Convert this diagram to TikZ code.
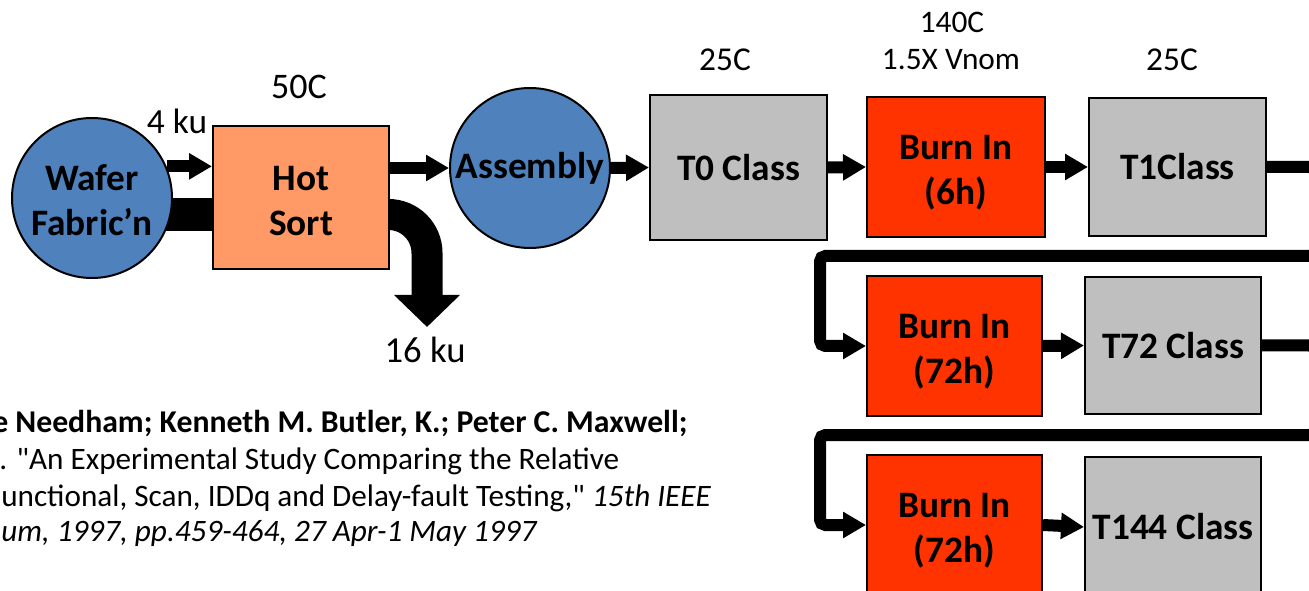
\documentclass[tikz,border=0pt]{standalone}
\usepackage{fontspec}
\setmainfont{Carlito}
\usetikzlibrary{arrows.meta,backgrounds}
\definecolor{cblue}{HTML}{4F81BD}
\definecolor{csalmon}{HTML}{FF9966}
\definecolor{cred}{HTML}{FF3300}
\definecolor{cgray}{HTML}{BFBFBF}
\newcommand{\tstrut}[1]{\rule{0pt}{#1}}
\begin{document}
\begin{tikzpicture}[x=0.75pt,y=-0.75pt,
  proc/.style={draw=black,line width=1.5pt,inner sep=0pt,align=center,
    font=\fontsize{28}{33.75}\selectfont\bfseries},
  circ/.style={proc,circle,fill=cblue,minimum size=120pt},
  hotbox/.style={proc,rectangle,fill=csalmon,minimum width=132pt,minimum height=107.25pt},
  testbox/.style={proc,rectangle,fill=cgray,minimum width=132.75pt,minimum height=105pt},
  burnbox/.style={proc,rectangle,fill=cred,minimum width=132pt,minimum height=105pt},
  lbl/.style={inner sep=0pt,font=\fontsize{23.5}{28}\selectfont},
  biglbl/.style={inner sep=0pt,font=\fontsize{27}{32}\selectfont},
  midlbl/.style={inner sep=0pt,font=\fontsize{25}{30}\selectfont},
  cite/.style={anchor=base west,inner sep=0pt,font=\fontsize{23.4}{28}\selectfont},
  flow/.style={line width=9pt,-{Triangle[length=17.25pt,width=18.75pt]}},
  loopflow/.style={flow,rounded corners=4pt},
  fatbar/.style={line width=24.75pt},
  lossflow/.style={line width=23.25pt,rounded corners=28.9pt,-{Triangle[length=24pt,width=48pt]}}
]
\useasboundingbox (0,0) rectangle (1309,591);
\clip (0,0) rectangle (1309,591);

% nodes
\node[circ] (wafer) at (92,198) {\tstrut{23pt}Wafer\\Fabric’n};
\node[hotbox] (hot) at (301,197.5) {\tstrut{23pt}Hot\\Sort};
\node[circ] (asm) at (530,168) {Assembly};
\node[testbox,minimum height=108.75pt] (t0) at (738.5,167.5) {T0 Class};
\node[burnbox,minimum width=133.5pt] (b1) at (956,167) {\tstrut{26pt}Burn In\\(6h)};
\node[testbox,minimum height=103.5pt] (t1) at (1177.5,167) {T1Class};
\node[burnbox,minimum width=131.25pt] (b2) at (954.5,346) {\tstrut{26pt}Burn In\\(72h)};
\node[testbox,minimum width=132pt,minimum height=102.75pt] (t72) at (1173,345.5) {T72 Class};
\node[burnbox,minimum width=131.25pt] (b3) at (954.5,525) {\tstrut{26pt}Burn In\\(72h)};
\node[testbox,minimum width=132pt] (t144) at (1173,527) {T144 Class};

% labels
\node[biglbl] (l50) at (299,87) {50C};
\node[biglbl,font=\fontsize{26.5}{32}\selectfont] (l4ku) at (177,121) {4 ku};
\node[biglbl,font=\fontsize{27.5}{32}\selectfont] (l16ku) at (425,350) {16 ku};
\node[midlbl] (l25a) at (725,60) {25C};
\node[lbl] (l140) at (952,22) {140C};
\node[lbl] (lvnom) at (951,60) {1.5X Vnom};
\node[midlbl] (l25b) at (1172,60) {25C};

% citation
\node[cite,font=\fontsize{23.8}{28}\selectfont] (c1) at (-8,432) {\bfseries e Needham; Kenneth M. Butler, K.; Peter C. Maxwell;};
\node[cite] (c2) at (-1,469) {. \textquotedbl An Experimental Study Comparing the Relative};
\node[cite] (c3) at (1,506) {unctional, Scan, IDDq and Delay-fault Testing,\textquotedbl{} \itshape 15th IEEE};
\node[cite] (c4) at (1,541) {\itshape um, 1997, pp.459-464, 27 Apr-1 May 1997};

% connectors
\coordinate (wb) at ([yshift=-12.4pt]wafer.center);
\coordinate (hb) at ([yshift=-12.75pt]hot.east);
\coordinate (lossend) at (427,327);
\coordinate (r1) at (1315,256);
\coordinate (l1) at (820,256);
\coordinate (r2) at (1315,435);
\coordinate (l2) at (820,435);
\begin{pgfonlayer}{background}
  \clip (0,0) rectangle (1309,591);
  \draw[fatbar] (wb) -- (wb -| hot.west);
  \draw[lossflow] (hb) -| (lossend);
  \draw[flow] (wafer.23) -- (wafer.23 -| hot.west);
  \draw[flow] (asm.west -| hot.east) -- (asm.west);
  \draw[flow] (asm.east) -- (t0.west);
  \draw[flow] (t0.east) -- (b1.west);
  \draw[flow] (b1.east) -- (t1.west);
  \draw[loopflow] (t1.east) -| (r1) -- (l1) |- (b2.west);
  \draw[flow] (b2.east) -- (t72.west);
  \draw[loopflow] (t72.east) -| (r2) -- (l2) |- (b3.west);
  \draw[flow] (b3.east) -- (t144.west);
\end{pgfonlayer}
\end{tikzpicture}
\end{document}
